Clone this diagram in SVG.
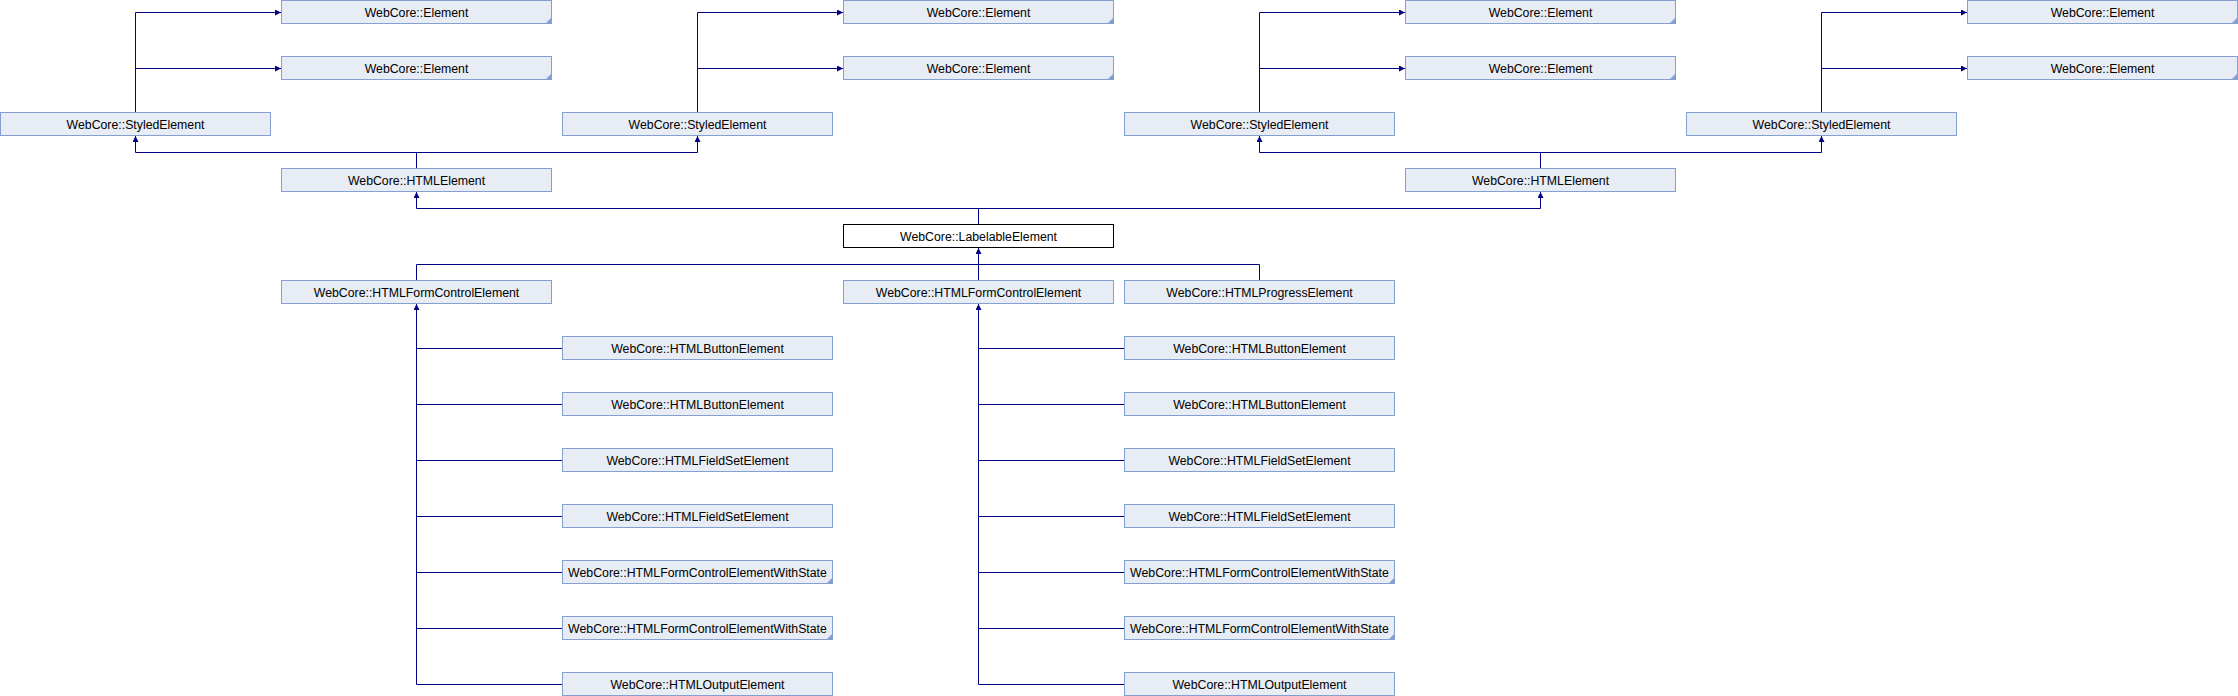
<svg xmlns="http://www.w3.org/2000/svg" width="2238" height="696" viewBox="0 0 2238 696">
<style>
.b{fill:#E8ECF4;stroke:#84A0D0;stroke-width:1}
.w{fill:#FFFFFF;stroke:#000000;stroke-width:1}
.t{font-family:"Liberation Sans",Arial,Helvetica,sans-serif;font-size:12.3px;fill:#000000;text-anchor:middle}
.tr{fill:#84A0D0}
.e{fill:none;stroke:#000080;stroke-width:1}
.a{fill:none;stroke:#000080;stroke-width:1;marker-end:url(#arr)}
</style>
<defs>
<marker id="arr" markerUnits="userSpaceOnUse" markerWidth="7" markerHeight="7" refX="6" refY="3" orient="auto">
<path d="M0,0 L6,3 L0,6 z" fill="#000080"/>
</marker>
</defs>
<rect width="2238" height="696" fill="#FFFFFF"/>
<g id="connectors">
<!-- StyledElement -> Element -->
<path class="e" d="M135.5,112 V12.5"/>
<path class="a" d="M135.5,12.5 H281"/>
<path class="a" d="M135.5,68.5 H281"/>
<path class="e" d="M697.5,112 V12.5"/>
<path class="a" d="M697.5,12.5 H843"/>
<path class="a" d="M697.5,68.5 H843"/>
<path class="e" d="M1259.5,112 V12.5"/>
<path class="a" d="M1259.5,12.5 H1405"/>
<path class="a" d="M1259.5,68.5 H1405"/>
<path class="e" d="M1821.5,112 V12.5"/>
<path class="a" d="M1821.5,12.5 H1967"/>
<path class="a" d="M1821.5,68.5 H1967"/>
<!-- HTMLElement -> StyledElement -->
<path class="e" d="M416.5,168 V152.5 M135.5,152.5 H697.5"/>
<path class="a" d="M135.5,152.5 V136"/>
<path class="a" d="M697.5,152.5 V136"/>
<path class="e" d="M1540.5,168 V152.5 M1259.5,152.5 H1821.5"/>
<path class="a" d="M1259.5,152.5 V136"/>
<path class="a" d="M1821.5,152.5 V136"/>
<!-- LabelableElement -> HTMLElement -->
<path class="e" d="M978.5,224 V208.5 M416.5,208.5 H1540.5"/>
<path class="a" d="M416.5,208.5 V192"/>
<path class="a" d="M1540.5,208.5 V192"/>
<!-- row5 -> LabelableElement -->
<path class="e" d="M416.5,280 V264.5 M1259.5,280 V264.5 M416.5,264.5 H1259.5"/>
<path class="a" d="M978.5,280 V248"/>
<!-- children -> HTMLFormControlElement (col1) -->
<path class="a" d="M416.5,684.5 V304"/>
<path class="e" d="M416.5,348.5 H562 M416.5,404.5 H562 M416.5,460.5 H562 M416.5,516.5 H562 M416.5,572.5 H562 M416.5,628.5 H562 M416.5,684.5 H562"/>
<!-- children -> HTMLFormControlElement (col3) -->
<path class="a" d="M978.5,684.5 V304"/>
<path class="e" d="M978.5,348.5 H1124 M978.5,404.5 H1124 M978.5,460.5 H1124 M978.5,516.5 H1124 M978.5,572.5 H1124 M978.5,628.5 H1124 M978.5,684.5 H1124"/>
</g>
<!-- Row 0 -->
<g id="element_1_0"><rect class="b" x="281.5" y="0.5" width="270" height="23"/><polygon class="tr" points="551,18 551,23 546,23"/><text class="t" x="416.5" y="16.5">WebCore::Element</text></g>
<g id="element_3_0"><rect class="b" x="843.5" y="0.5" width="270" height="23"/><polygon class="tr" points="1113,18 1113,23 1108,23"/><text class="t" x="978.5" y="16.5">WebCore::Element</text></g>
<g id="element_5_0"><rect class="b" x="1405.5" y="0.5" width="270" height="23"/><polygon class="tr" points="1675,18 1675,23 1670,23"/><text class="t" x="1540.5" y="16.5">WebCore::Element</text></g>
<g id="element_7_0"><rect class="b" x="1967.5" y="0.5" width="270" height="23"/><polygon class="tr" points="2237,18 2237,23 2232,23"/><text class="t" x="2102.5" y="16.5">WebCore::Element</text></g>
<!-- Row 1 -->
<g id="element_1_1"><rect class="b" x="281.5" y="56.5" width="270" height="23"/><polygon class="tr" points="551,74 551,79 546,79"/><text class="t" x="416.5" y="72.5">WebCore::Element</text></g>
<g id="element_3_1"><rect class="b" x="843.5" y="56.5" width="270" height="23"/><polygon class="tr" points="1113,74 1113,79 1108,79"/><text class="t" x="978.5" y="72.5">WebCore::Element</text></g>
<g id="element_5_1"><rect class="b" x="1405.5" y="56.5" width="270" height="23"/><polygon class="tr" points="1675,74 1675,79 1670,79"/><text class="t" x="1540.5" y="72.5">WebCore::Element</text></g>
<g id="element_7_1"><rect class="b" x="1967.5" y="56.5" width="270" height="23"/><polygon class="tr" points="2237,74 2237,79 2232,79"/><text class="t" x="2102.5" y="72.5">WebCore::Element</text></g>
<!-- Row 2 -->
<g id="styled_0"><rect class="b" x="0.5" y="112.5" width="270" height="23"/><text class="t" x="135.5" y="128.5">WebCore::StyledElement</text></g>
<g id="styled_2"><rect class="b" x="562.5" y="112.5" width="270" height="23"/><text class="t" x="697.5" y="128.5">WebCore::StyledElement</text></g>
<g id="styled_4"><rect class="b" x="1124.5" y="112.5" width="270" height="23"/><text class="t" x="1259.5" y="128.5">WebCore::StyledElement</text></g>
<g id="styled_6"><rect class="b" x="1686.5" y="112.5" width="270" height="23"/><text class="t" x="1821.5" y="128.5">WebCore::StyledElement</text></g>
<!-- Row 3 -->
<g id="htmlelement_1"><rect class="b" x="281.5" y="168.5" width="270" height="23"/><text class="t" x="416.5" y="184.5">WebCore::HTMLElement</text></g>
<g id="htmlelement_5"><rect class="b" x="1405.5" y="168.5" width="270" height="23"/><text class="t" x="1540.5" y="184.5">WebCore::HTMLElement</text></g>
<!-- Row 4 -->
<g id="labelable"><rect class="w" x="843.5" y="224.5" width="270" height="23"/><text class="t" x="978.5" y="240.5">WebCore::LabelableElement</text></g>
<!-- Row 5 -->
<g id="formcontrol_1"><rect class="b" x="281.5" y="280.5" width="270" height="23"/><text class="t" x="416.5" y="296.5">WebCore::HTMLFormControlElement</text></g>
<g id="formcontrol_3"><rect class="b" x="843.5" y="280.5" width="270" height="23"/><text class="t" x="978.5" y="296.5">WebCore::HTMLFormControlElement</text></g>
<g id="progress_4"><rect class="b" x="1124.5" y="280.5" width="270" height="23"/><text class="t" x="1259.5" y="296.5">WebCore::HTMLProgressElement</text></g>
<!-- Children col 2 -->
<g id="button_2a"><rect class="b" x="562.5" y="336.5" width="270" height="23"/><text class="t" x="697.5" y="352.5">WebCore::HTMLButtonElement</text></g>
<g id="button_2b"><rect class="b" x="562.5" y="392.5" width="270" height="23"/><text class="t" x="697.5" y="408.5">WebCore::HTMLButtonElement</text></g>
<g id="fieldset_2a"><rect class="b" x="562.5" y="448.5" width="270" height="23"/><text class="t" x="697.5" y="464.5">WebCore::HTMLFieldSetElement</text></g>
<g id="fieldset_2b"><rect class="b" x="562.5" y="504.5" width="270" height="23"/><text class="t" x="697.5" y="520.5">WebCore::HTMLFieldSetElement</text></g>
<g id="withstate_2a"><rect class="b" x="562.5" y="560.5" width="270" height="23"/><polygon class="tr" points="832,578 832,583 827,583"/><text class="t" x="697.5" y="576.5">WebCore::HTMLFormControlElementWithState</text></g>
<g id="withstate_2b"><rect class="b" x="562.5" y="616.5" width="270" height="23"/><polygon class="tr" points="832,634 832,639 827,639"/><text class="t" x="697.5" y="632.5">WebCore::HTMLFormControlElementWithState</text></g>
<g id="output_2"><rect class="b" x="562.5" y="672.5" width="270" height="23"/><text class="t" x="697.5" y="688.5">WebCore::HTMLOutputElement</text></g>
<!-- Children col 4 -->
<g id="button_4a"><rect class="b" x="1124.5" y="336.5" width="270" height="23"/><text class="t" x="1259.5" y="352.5">WebCore::HTMLButtonElement</text></g>
<g id="button_4b"><rect class="b" x="1124.5" y="392.5" width="270" height="23"/><text class="t" x="1259.5" y="408.5">WebCore::HTMLButtonElement</text></g>
<g id="fieldset_4a"><rect class="b" x="1124.5" y="448.5" width="270" height="23"/><text class="t" x="1259.5" y="464.5">WebCore::HTMLFieldSetElement</text></g>
<g id="fieldset_4b"><rect class="b" x="1124.5" y="504.5" width="270" height="23"/><text class="t" x="1259.5" y="520.5">WebCore::HTMLFieldSetElement</text></g>
<g id="withstate_4a"><rect class="b" x="1124.5" y="560.5" width="270" height="23"/><polygon class="tr" points="1394,578 1394,583 1389,583"/><text class="t" x="1259.5" y="576.5">WebCore::HTMLFormControlElementWithState</text></g>
<g id="withstate_4b"><rect class="b" x="1124.5" y="616.5" width="270" height="23"/><polygon class="tr" points="1394,634 1394,639 1389,639"/><text class="t" x="1259.5" y="632.5">WebCore::HTMLFormControlElementWithState</text></g>
<g id="output_4"><rect class="b" x="1124.5" y="672.5" width="270" height="23"/><text class="t" x="1259.5" y="688.5">WebCore::HTMLOutputElement</text></g>
</svg>
